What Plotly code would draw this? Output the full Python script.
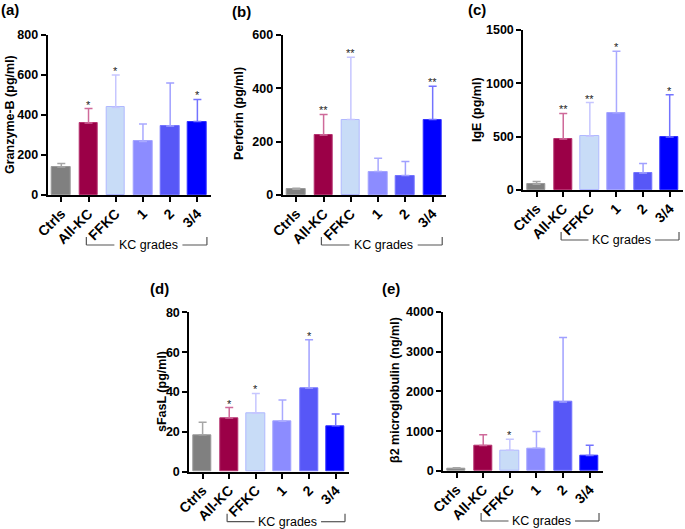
import plotly.graph_objects as go

W, H = 685, 529

categories = ["Ctrls", "All-KC", "FFKC", "1", "2", "3/4"]

granzyme_mean = [140, 360, 438, 268, 345, 367]
granzyme_err = [18, 72, 162, 87, 215, 111]
granzyme_sig = ["", "*", "*", "", "", "*"]

perforin_mean = [22, 225, 283, 88, 73, 283]
perforin_err = [3, 77, 234, 50, 53, 125]
perforin_sig = ["", "**", "**", "", "", "**"]

ige_mean = [55, 478, 505, 725, 160, 497]
ige_err = [25, 240, 315, 575, 88, 396]
ige_sig = ["", "**", "**", "*", "", "*"]

sfasl_mean = [18.5, 27.0, 29.3, 25.3, 42.0, 23.0]
sfasl_err = [6.3, 5.2, 10.0, 10.7, 24.2, 6.0]
sfasl_sig = ["", "*", "*", "", "*", ""]

b2m_mean = [70, 640, 520, 570, 1730, 390]
b2m_err = [10, 270, 275, 420, 1620, 255]
b2m_sig = ["", "", "*", "", "", ""]

fill_colors = ["#808080", "#9b0047", "#c8dcf7", "#8c8cff", "#5757f7", "#0000ff"]
line_colors = ["#9a9a9a", "#b5306e", "#b0b8ff", "#a3a3ff", "#7373ff", "#3030ff"]
err_colors = ["#a6a6a6", "#cf6a9a", "#c6c6ff", "#a9a9ff", "#a0a0ff", "#7373ff"]

FONT = "Liberation Sans, Arial, sans-serif"

panels = [
    dict(label="(a)", title="Granzyme-B (pg/ml)", mean=granzyme_mean, err=granzyme_err, sig=granzyme_sig,
         xpx=(47.7, 211.0), ypx=(35, 195), yr=(0, 800), dt=200, lab=(10, 9), tit=(10, 115)),
    dict(label="(b)", title="Perforin (pg/ml)", mean=perforin_mean, err=perforin_err, sig=perforin_sig,
         xpx=(282.7, 446.3), ypx=(35, 195), yr=(0, 600), dt=200, lab=(241, 12), tit=(239, 113)),
    dict(label="(c)", title="IgE (pg/ml)", mean=ige_mean, err=ige_err, sig=ige_sig,
         xpx=(523.3, 683.0), ypx=(30, 190), yr=(0, 1500), dt=500, lab=(477, 9), tit=(477, 110)),
    dict(label="(d)", title="sFasL (pg/ml)", mean=sfasl_mean, err=sfasl_err, sig=sfasl_sig,
         xpx=(189.3, 349.0), ypx=(312.3, 471.7), yr=(0, 80), dt=20, lab=(159, 288), tit=(162, 392)),
    dict(label="(e)", title="β2 microglobulin (ng/ml)", mean=b2m_mean, err=b2m_err, sig=b2m_sig,
         xpx=(443.3, 603.0), ypx=(311.7, 471.0), yr=(0, 4000), dt=1000, lab=(391, 288), tit=(395, 390)),
]

fig = go.Figure()
annotations = []
shapes = []

for k, p in enumerate(panels):
    n = "" if k == 0 else str(k + 1)
    xa, ya = "x" + n, "y" + n
    for i, cat in enumerate(categories):
        fig.add_trace(go.Bar(
            x=[i], y=[p["mean"][i]], width=0.68,
            marker=dict(color=fill_colors[i], line=dict(color=line_colors[i], width=1)),
            error_y=dict(type="data", symmetric=False, array=[p["err"][i]], arrayminus=[0],
                         color=err_colors[i], thickness=1.5, width=4),
            xaxis=xa, yaxis=ya, showlegend=False, name=cat, hoverinfo="skip",
        ))
        if p["sig"][i]:
            annotations.append(dict(x=i, y=p["mean"][i] + p["err"][i], xref=xa, yref=ya,
                                    text=p["sig"][i], showarrow=False, xanchor="center",
                                    yanchor="bottom", yshift=-4,
                                    font=dict(family=FONT, size=11, color="#222")))
    x0, x1 = p["xpx"]
    y0, y1 = p["ypx"]
    fig.update_layout(**{
        ("xaxis" + n): dict(domain=[x0 / W, x1 / W], anchor=ya, range=[-0.5, 5.5], automargin=False,
                            tickmode="array", tickvals=list(range(6)), ticktext=categories,
                            tickangle=-45, ticks="outside", ticklen=5, tickwidth=1.5,
                            ticklabelstandoff=-2,
                            tickcolor="black", showline=True, linecolor="black", linewidth=2,
                            showgrid=False, zeroline=False, fixedrange=True,
                            tickfont=dict(family=FONT, size=14, color="black", weight="bold")),
        ("yaxis" + n): dict(domain=[1 - y1 / H, 1 - y0 / H], anchor=xa, range=list(p["yr"]),
                            automargin=False,
                            dtick=p["dt"], tick0=0, ticks="outside", ticklen=5, tickwidth=1.5,
                            tickcolor="black", showline=True, linecolor="black", linewidth=2,
                            showgrid=False, zeroline=False, fixedrange=True,
                            tickfont=dict(family=FONT, size=12.5, color="black", weight="bold")),
    })
    # panel label
    annotations.append(dict(x=p["lab"][0] / W, y=1 - p["lab"][1] / H, xref="paper", yref="paper",
                            text="<b>" + p["label"] + "</b>", showarrow=False,
                            xanchor="center", yanchor="middle",
                            font=dict(family=FONT, size=15, color="black")))
    # y title
    annotations.append(dict(x=p["tit"][0] / W, y=1 - (p["tit"][1]) / H, xref="paper", yref="paper",
                            text="<b>" + p["title"] + "</b>", showarrow=False, textangle=-90,
                            xanchor="center", yanchor="middle",
                            font=dict(family=FONT, size=12.5, color="black")))
    # KC grades bracket
    hpx = y1 - y0
    top = -42 / hpx
    bot = -50 / hpx
    ydom = ya + " domain"
    bx0, bx1 = 0.92, 5.35
    gl, gr = 1.95, 4.45
    lc = dict(color="#555555", width=1.2)
    for sx0, sx1, sy0, sy1 in [(bx0, bx0, top, bot), (bx1, bx1, top, bot),
                               (bx0, gl, bot, bot), (gr, bx1, bot, bot)]:
        shapes.append(dict(type="line", xref=xa, yref=ydom, x0=sx0, x1=sx1, y0=sy0, y1=sy1, line=lc))
    annotations.append(dict(x=(gl + gr) / 2, y=bot, xref=xa, yref=ydom, text="KC grades",
                            showarrow=False, xanchor="center", yanchor="middle",
                            font=dict(family=FONT, size=12.5, color="black")))

fig.update_layout(
    template="none",
    width=W, height=H, margin=dict(l=0, r=0, t=0, b=0, autoexpand=False),
    paper_bgcolor="white", plot_bgcolor="white", hovermode=False,
    annotations=annotations, shapes=shapes, bargap=0,
)

fig.write_html("out.html", config={"displayModeBar": False},
               post_script="document.body.style.margin='0';")
